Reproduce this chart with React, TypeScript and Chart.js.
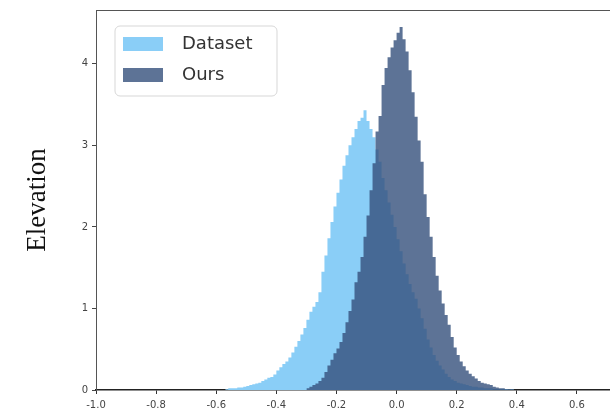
import React, { useEffect, useRef } from "react";
import { Chart, registerables } from "chart.js";

Chart.register(...registerables);

const BIN_WIDTH = 0.01;
const seriesLabels = ["Dataset", "Ours"];
const xTicks = [-1.0, -0.8, -0.6, -0.4, -0.2, 0.0, 0.2, 0.4, 0.6];
const yTicks = [0, 1, 2, 3, 4];
const xMin = -1.0;
const xMax = 0.71;
const yMax = 4.66;

const datasetStart = -0.57;
const datasetValues = [
  0.01, 0.01, 0.02, 0.02, 0.02, 0.03, 0.03, 0.04, 0.05, 0.06,
  0.07, 0.08, 0.09, 0.11, 0.13, 0.15, 0.16, 0.19, 0.24, 0.28,
  0.32, 0.35, 0.40, 0.46, 0.53, 0.60, 0.68, 0.76, 0.86, 0.96,
  1.02, 1.08, 1.20, 1.45, 1.65, 1.86, 2.06, 2.25, 2.42, 2.58,
  2.75, 2.88, 3.00, 3.10, 3.20, 3.30, 3.34, 3.43, 3.30, 3.20,
  3.10, 2.95, 2.80, 2.60, 2.45, 2.30, 2.15, 2.00, 1.85, 1.70,
  1.55, 1.42, 1.30, 1.20, 1.12, 1.00, 0.88, 0.75, 0.62, 0.52,
  0.43, 0.36, 0.30, 0.25, 0.20, 0.16, 0.13, 0.11, 0.09, 0.08,
  0.07, 0.06, 0.05, 0.04, 0.04, 0.03, 0.03, 0.02, 0.02, 0.02,
  0.01, 0.01, 0.01, 0.01, 0.01, 0.005, 0.005,
];

const oursStart = -0.30;
const oursValues = [
  0.01, 0.02, 0.04, 0.06, 0.08, 0.11, 0.15, 0.22, 0.30, 0.37,
  0.45, 0.51, 0.59, 0.70, 0.83, 0.97, 1.11, 1.32, 1.45, 1.63,
  1.88, 2.14, 2.45, 2.78, 3.17, 3.36, 3.74, 3.95, 4.08, 4.20,
  4.29, 4.38, 4.45, 4.30, 4.15, 3.92, 3.65, 3.35, 3.06, 2.80,
  2.40, 2.12, 1.88, 1.63, 1.40, 1.22, 1.06, 0.92, 0.80, 0.65,
  0.52, 0.43, 0.35, 0.29, 0.24, 0.20, 0.17, 0.14, 0.11, 0.09,
  0.08, 0.07, 0.06, 0.04, 0.03, 0.02, 0.02, 0.01, 0.01, 0.005,
];

const DATASET_COLOR = "rgb(138, 206, 247)";
const OURS_COLOR = "rgba(52, 80, 124, 0.8)";
const OURS_LEGEND = "rgb(93, 115, 150)";

function toSteps(start: number, values: number[]) {
  const pts = values.map((v, i) => ({ x: +(start + i * BIN_WIDTH).toFixed(4), y: v }));
  pts.push({ x: +(start + values.length * BIN_WIDTH).toFixed(4), y: 0 });
  return pts;
}

const legendPlugin = {
  id: "customLegend",
  afterDatasetsDraw(chart: any) {
    const { ctx, chartArea } = chart;
    const x0 = chartArea.left + 19;
    const y0 = chartArea.top + 16;
    const w = 162;
    const h = 70;
    ctx.save();
    ctx.beginPath();
    const r = 5;
    ctx.moveTo(x0 + r, y0);
    ctx.arcTo(x0 + w, y0, x0 + w, y0 + h, r);
    ctx.arcTo(x0 + w, y0 + h, x0, y0 + h, r);
    ctx.arcTo(x0, y0 + h, x0, y0, r);
    ctx.arcTo(x0, y0, x0 + w, y0, r);
    ctx.closePath();
    ctx.fillStyle = "rgba(255,255,255,0.8)";
    ctx.fill();
    ctx.strokeStyle = "rgba(215,215,215,1)";
    ctx.lineWidth = 1;
    ctx.stroke();
    const colors = [DATASET_COLOR, OURS_LEGEND];
    ctx.font = "18px 'DejaVu Sans'";
    ctx.textBaseline = "middle";
    ctx.textAlign = "left";
    seriesLabels.forEach((lab, i) => {
      const cy = y0 + 18 + i * 31;
      ctx.fillStyle = colors[i];
      ctx.fillRect(x0 + 8, cy - 7, 40, 14);
      ctx.fillStyle = "#333";
      ctx.fillText(lab, x0 + 67, cy);
    });
    // top spine
    ctx.beginPath();
    ctx.strokeStyle = "#555";
    ctx.lineWidth = 1;
    ctx.moveTo(chartArea.left, chartArea.top + 0.5);
    ctx.lineTo(chartArea.right, chartArea.top + 0.5);
    ctx.stroke();
    ctx.restore();
  },
};

export default function App() {
  const ref = useRef<HTMLCanvasElement | null>(null);
  useEffect(() => {
    if (!ref.current) return;
    const tickFont = { family: "'DejaVu Sans'", size: 10 };
    const chart = new Chart(ref.current, {
      type: "line",
      data: {
        datasets: [
          {
            label: seriesLabels[0],
            data: toSteps(datasetStart, datasetValues),
            stepped: "after",
            fill: "origin",
            backgroundColor: DATASET_COLOR,
            borderColor: "transparent",
            borderWidth: 0,
            pointRadius: 0,
            order: 2,
          },
          {
            label: seriesLabels[1],
            data: toSteps(oursStart, oursValues),
            stepped: "after",
            fill: "origin",
            backgroundColor: OURS_COLOR,
            borderColor: "transparent",
            borderWidth: 0,
            pointRadius: 0,
            order: 1,
          },
        ],
      },
      options: {
        responsive: false,
        animation: false,
        events: [],
        layout: { padding: { top: 9, right: 0, left: 0, bottom: 0 } },
        plugins: { legend: { display: false }, tooltip: { enabled: false } },
        scales: {
          x: {
            type: "linear",
            min: xMin,
            max: xMax,
            afterBuildTicks: (s: any) => {
              s.ticks = xTicks.map((v) => ({ value: v }));
            },
            afterFit: (s: any) => {
              s.height = 28;
            },
            grid: { display: true, drawOnChartArea: false, drawTicks: true, tickLength: 4, color: "#333" },
            border: { display: true, color: "#222", width: 1.5 },
            ticks: {
              font: tickFont,
              color: "#444",
              padding: 5,
              maxRotation: 0,
              callback: (v: any) => Number(v).toFixed(1),
            },
          },
          y: {
            type: "linear",
            min: 0,
            max: yMax,
            afterBuildTicks: (s: any) => {
              s.ticks = yTicks.map((v) => ({ value: v }));
            },
            afterFit: (s: any) => {
              s.width = 96;
            },
            grid: { display: true, drawOnChartArea: false, drawTicks: true, tickLength: 4, color: "#444" },
            border: { display: true, color: "#555", width: 1 },
            ticks: { font: tickFont, color: "#444", padding: 4, callback: (v: any) => String(v) },
            title: {
              display: true,
              text: "Elevation",
              color: "#111",
              font: { family: "'Liberation Serif', serif", size: 27 },
              padding: { top: 22, bottom: 0 },
            },
          },
        },
      },
      plugins: [legendPlugin],
    } as any);
    return () => chart.destroy();
  }, []);
  return (
    <div style={{ position: "fixed", left: 0, top: 0, width: 610, height: 418, background: "#fff" }}>
      <canvas ref={ref} width={610} height={418} />
    </div>
  );
}
